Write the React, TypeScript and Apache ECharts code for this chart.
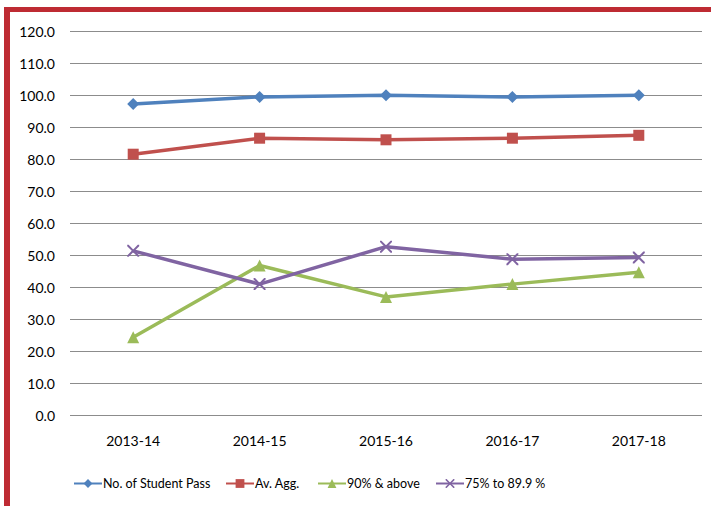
import React, { useEffect, useRef } from "react";
import * as echarts from "echarts";

const categories = ["2013-14", "2014-15", "2015-16", "2016-17", "2017-18"];
const studentPass = [97.2, 99.4, 99.9, 99.4, 99.9];
const avAgg = [81.5, 86.5, 86.0, 86.5, 87.4];
const above90 = [24.3, 46.7, 36.9, 40.9, 44.6];
const range75 = [51.3, 40.9, 52.6, 48.7, 49.2];
const seriesNames = ["No. of Student Pass", "Av. Agg.", "90% & above", "75% to 89.9 %"];
const legendLefts = [73, 225, 317, 435];

const crossPath =
  "path://M0,0 L1.2,0 L5,3.8 L8.8,0 L10,0 L10,1.2 L6.2,5 L10,8.8 L10,10 L8.8,10 L5,6.2 L1.2,10 L0,10 L0,8.8 L3.8,5 L0,1.2 Z";

export default function App() {
  const ref = useRef<HTMLDivElement>(null);
  useEffect(() => {
    document.body.style.margin = "0";
    const chart = echarts.init(ref.current!, undefined, { renderer: "svg" });
    const font = "Lato, 'Open Sans', sans-serif";
    const mk = (name: string, data: number[], color: string, symbol: string, size: number) => ({
      name,
      type: "line",
      data,
      symbol,
      symbolSize: size,
      showAllSymbol: true,
      lineStyle: { color, width: 3.5 },
      itemStyle: { color },
    });
    chart.setOption({
      animation: false,
      backgroundColor: "#ffffff",
      textStyle: { fontFamily: font },
      grid: { left: 70, right: 9, top: 31, bottom: 91 },
      xAxis: {
        type: "category",
        data: categories,
        boundaryGap: true,
        axisLine: { show: false },
        axisTick: { show: false },
        axisLabel: { color: "#000", fontSize: 14, fontFamily: font, margin: 18 },
      },
      yAxis: {
        type: "value",
        min: 0,
        max: 120,
        interval: 10,
        axisLine: { show: false },
        axisTick: { show: false },
        splitLine: { lineStyle: { color: "#8c8c8c", width: 1 } },
        axisLabel: {
          color: "#000",
          fontSize: 14,
          fontFamily: font,
          margin: 15,
          formatter: (v: number) => v.toFixed(1),
        },
      },
      legend: seriesNames.map((n, i) => ({
        left: legendLefts[i],
        top: 477,
        padding: 0,
        itemWidth: 28,
        itemHeight: 11,
        textStyle: { color: "#000", fontSize: 12.5, fontFamily: font, padding: [0, 0, 0, -4] },
        data: [n],
      })),
      graphic: [
        { type: "rect", shape: { x: 4, y: 7, width: 707, height: 5 }, style: { fill: "#BE2B33" } },
        { type: "rect", shape: { x: 4, y: 7, width: 6, height: 499 }, style: { fill: "#BE2B33" } },
      ],
      series: [
        mk(seriesNames[0], studentPass, "#4F81BD", "diamond", 12),
        mk(seriesNames[1], avAgg, "#C0504D", "rect", 11),
        mk(seriesNames[2], above90, "#9BBB59", "triangle", 12),
        mk(seriesNames[3], range75, "#8064A2", crossPath, 12),
      ],
    });
    return () => chart.dispose();
  }, []);
  return <div ref={ref} style={{ width: 711, height: 506 }} />;
}
